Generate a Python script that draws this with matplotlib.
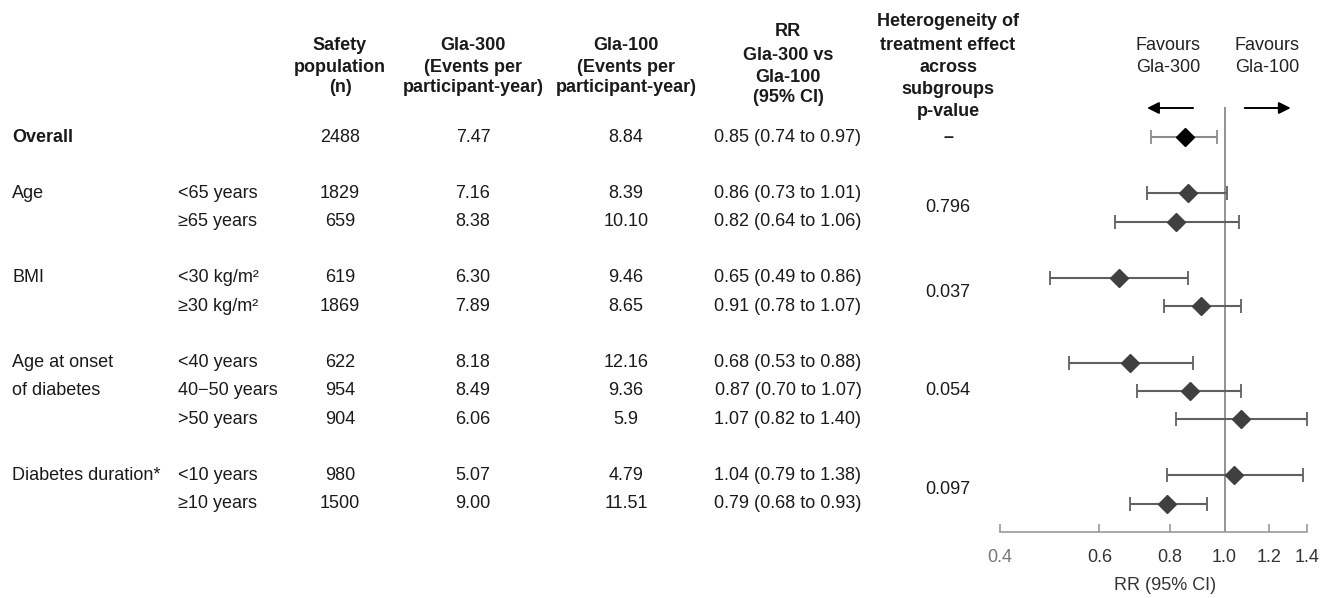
import matplotlib
matplotlib.use("Agg")
import matplotlib.pyplot as plt
import matplotlib.transforms as mtransforms

plt.rcParams['font.family'] = ['Liberation Sans', 'DejaVu Sans']

# ---------------- data ----------------
group_labels = ["Overall", "Age", "BMI", "Age at onset", "of diabetes", "Diabetes duration*"]
group_rows = [0, 2, 5, 8, 9, 12]
subgroups = ["", "<65 years", "≥65 years", "<30 kg/m²", "≥30 kg/m²",
             "<40 years", "40−50 years", ">50 years", "<10 years", "≥10 years"]
rows = [0, 2, 3, 5, 6, 8, 9, 10, 12, 13]
n_safety = [2488, 1829, 659, 619, 1869, 622, 954, 904, 980, 1500]
gla300_rate = ["7.47", "7.16", "8.38", "6.30", "7.89", "8.18", "8.49", "6.06", "5.07", "9.00"]
gla100_rate = ["8.84", "8.39", "10.10", "9.46", "8.65", "12.16", "9.36", "5.9", "4.79", "11.51"]
rr = [0.85, 0.86, 0.82, 0.65, 0.91, 0.68, 0.87, 1.07, 1.04, 0.79]
rr_lo = [0.74, 0.73, 0.64, 0.49, 0.78, 0.53, 0.70, 0.82, 0.79, 0.68]
rr_hi = [0.97, 1.01, 1.06, 0.86, 1.07, 0.88, 1.07, 1.40, 1.38, 0.93]
p_values = ["–", "0.796", "0.037", "0.054", "0.097"]
p_rows = [0, 2.5, 5.5, 9, 12.5]
x_ticks = [0.4, 0.6, 0.8, 1.0, 1.2, 1.4]
x_ticklabels = ["0.4", "0.6", "0.8", "1.0", "1.2", "1.4"]

# ---------------- layout ----------------
W, H = 1336, 598
fig = plt.figure(figsize=(W / 100, H / 100), dpi=100)
ax_left, ax_right = 1000, 1307
ax_top, ax_bot = 107, 532
row0_px, row_step = 137, 28.2
ax = fig.add_axes([ax_left / W, 1 - ax_bot / H, (ax_right - ax_left) / W, (ax_bot - ax_top) / H])
ax.set_xscale('log')
ax.set_xlim(0.4, 1.4)
ax.set_ylim((ax_bot - row0_px) / row_step, (ax_top - row0_px) / row_step)

TXT = '#1a1a1a'
FS = 13

# reference line
ax.axvline(1.0, color='#808080', lw=1.2, zorder=1)

# CIs and markers
for i, (r, m, lo, hi) in enumerate(zip(rows, rr, rr_lo, rr_hi)):
    overall = (i == 0)
    ax.errorbar([m], [r], xerr=[[m - lo], [hi - m]], fmt='none',
                ecolor='#8c8c8c' if overall else '#606060', elinewidth=1.5,
                capsize=5, capthick=1.3, zorder=2)
    ax.plot([m], [r], marker='D', ms=9.5 if overall else 9,
            color='black' if overall else '#404040', zorder=3, ls='none')

# axis styling
for s in ['top', 'right', 'left']:
    ax.spines[s].set_visible(False)
ax.spines['bottom'].set_color('#999999')
ax.spines['bottom'].set_linewidth(1.2)
ax.set_yticks([])
ax.set_xticks(x_ticks)
ax.set_xticklabels(x_ticklabels)
ax.xaxis.set_minor_locator(matplotlib.ticker.NullLocator())
ax.tick_params(axis='x', direction='in', length=6, width=1.2, color='#999999',
               pad=12, labelsize=13, labelcolor='#333333')
ax.get_xticklabels()[0].set_color('#777777')
fig.text(1165 / W, 1 - 585 / H, "RR (95% CI)", ha='center', va='center',
         fontsize=FS, color='#333333')

# arrows
ay = (108 - row0_px) / row_step
arrow_style = dict(arrowstyle='-|>,head_length=0.7,head_width=0.35', color='black', lw=1.4)
ax.annotate('', xy=(0.47, ay), xytext=(0.638, ay),
            xycoords=('axes fraction', 'data'), textcoords=('axes fraction', 'data'),
            arrowprops=arrow_style, annotation_clip=False)
ax.annotate('', xy=(0.956, ay), xytext=(0.788, ay),
            xycoords=('axes fraction', 'data'), textcoords=('axes fraction', 'data'),
            arrowprops=arrow_style, annotation_clip=False)
for xc, lines in [(1168, ["Favours", "Gla-300"]), (1267, ["Favours", "Gla-100"])]:
    for yy, t in zip([45, 67], lines):
        fig.text(xc / W, 1 - yy / H, t, ha='center', va='center', fontsize=FS, color='#222222')

# headers
headers = [
    (340, [45, 67, 88], ["Safety", "population", "(n)"]),
    (473, [45, 67, 88], ["Gla-300", "(Events per", "participant-year)"]),
    (626, [45, 67, 88], ["Gla-100", "(Events per", "participant-year)"]),
    (788, [32, 55, 77, 98], ["RR", "Gla-300 vs", "Gla-100", "(95% CI)"]),
    (948, [22, 45, 67, 89, 112], ["Heterogeneity of", "treatment effect", "across", "subgroups", "p-value"]),
]
for xc, ys, lines in headers:
    for yy, t in zip(ys, lines):
        fig.text(xc / W, 1 - yy / H, t, ha='center', va='center', fontsize=FS,
                 fontweight='bold', color=TXT)

# table body
tr = mtransforms.blended_transform_factory(fig.transFigure, ax.transData)
for lab, r in zip(group_labels, group_rows):
    ax.text(12 / W, r, lab, transform=tr, ha='left', va='center', fontsize=FS, color=TXT,
            fontweight='bold' if lab == "Overall" else 'normal', clip_on=False)
for i, r in enumerate(rows):
    ax.text(178 / W, r, subgroups[i], transform=tr, ha='left', va='center', fontsize=FS, color=TXT, clip_on=False)
    ax.text(340 / W, r, str(n_safety[i]), transform=tr, ha='center', va='center', fontsize=FS, color=TXT, clip_on=False)
    ax.text(473 / W, r, gla300_rate[i], transform=tr, ha='center', va='center', fontsize=FS, color=TXT, clip_on=False)
    ax.text(626 / W, r, gla100_rate[i], transform=tr, ha='center', va='center', fontsize=FS, color=TXT, clip_on=False)
    ax.text(788 / W, r, f"{rr[i]:.2f} ({rr_lo[i]:.2f} to {rr_hi[i]:.2f})", transform=tr,
            ha='center', va='center', fontsize=FS, color=TXT, clip_on=False)
for p, r in zip(p_values, p_rows):
    ax.text(948 / W, r, p, transform=tr, ha='center', va='center', fontsize=FS, color=TXT,
            fontweight='bold' if p == "–" else 'normal', clip_on=False)

fig.savefig("out.png", dpi=100)
